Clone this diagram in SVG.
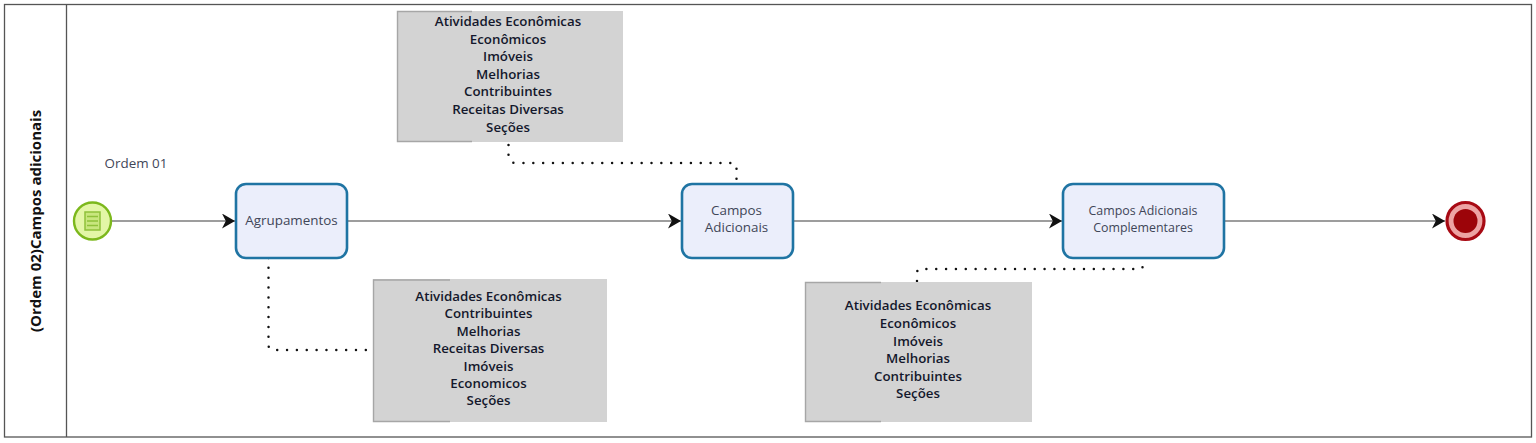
<svg xmlns="http://www.w3.org/2000/svg" width="1536" height="443" viewBox="0 0 1536 443">
  <style>
    text { font-family: "Open Sans", "DejaVu Sans", sans-serif; text-anchor: middle; }
    .task { fill: #ebeefb; stroke: #1f74a3; stroke-width: 2.6; }
    .label { font-size: 13.4px; fill: #3f4658; }
    .label-wide { font-size: 12.4px; fill: #3f4658; }
    .note { fill: #d3d3d3; }
    .note-edge { fill: none; stroke: #a6a6a6; stroke-width: 1.4; }
    .note-text { font-size: 13.3px; font-weight: 600; fill: #14182c; }
    .flow { fill: none; stroke: #3c3c3c; stroke-width: 1.2; }
    .assoc { fill: none; stroke: #111; stroke-width: 2.5; stroke-linecap: round; stroke-dasharray: 0 9.85; }
  </style>
  <defs>
    <marker id="arrow" markerUnits="userSpaceOnUse" markerWidth="15" markerHeight="17" refX="13" refY="7.500" orient="auto">
      <path d="M0 0 L13 7.500 L0 15 L3.800 7.500 Z" fill="#111"/>
    </marker>
  </defs>
  <rect width="1536" height="443" fill="#fff"/>

  <g id="pool">
    <rect x="4.500" y="4.500" width="1527" height="432.500" fill="#fff" stroke="#555" stroke-width="1.300"/>
    <line x1="66.500" y1="4.500" x2="66.500" y2="437" stroke="#555" stroke-width="1.300"/>
    <text transform="translate(41 221) rotate(-90)" font-size="15" font-weight="700" fill="#111">(Ordem 02)Campos adicionais</text>
  </g>

  <g id="connectors">
    <path class="flow" d="M111 221H235" marker-end="url(#arrow)"/>
    <path class="flow" d="M347 221H681" marker-end="url(#arrow)"/>
    <path class="flow" d="M793 221H1062" marker-end="url(#arrow)"/>
    <path class="flow" d="M1224 221H1445" marker-end="url(#arrow)"/>
    <path class="assoc" d="M268.500 258V345Q268.500 350 274 350H372"/>
    <path class="assoc" d="M508.500 145V155Q509 163 516 163H731Q736.500 163 736.500 168V183"/>
    <path class="assoc" d="M917 281V273Q917 269 921 269H1139Q1143 269 1143 265V258"/>
  </g>

  <g id="start-event">
    <circle cx="92.500" cy="221" r="18.500" fill="#e3f6a6" stroke="#7cb81c" stroke-width="2.400"/>
    <rect x="85" y="212" width="15" height="18" fill="#c8e67e" stroke="#8fc13a" stroke-width="1.500"/>
    <path d="M87 216.500H98M87 221H98M87 225.500H98" stroke="#8fc13a" stroke-width="1.500" fill="none"/>
    <text class="label" x="136" y="168">Ordem 01</text>
  </g>

  <g id="task-agrupamentos">
    <rect class="task" x="236" y="184" width="111" height="74" rx="10"/>
    <text class="label" x="291.500" y="225">Agrupamentos</text>
  </g>

  <g id="task-campos-adicionais">
    <rect class="task" x="682" y="184" width="111" height="74" rx="10"/>
    <text class="label" x="736.500" y="215">Campos</text>
    <text class="label" x="736.500" y="232">Adicionais</text>
  </g>

  <g id="task-campos-complementares">
    <rect class="task" x="1063" y="184" width="161" height="74" rx="10"/>
    <text class="label-wide" x="1143" y="215">Campos Adicionais</text>
    <text class="label-wide" x="1143" y="232">Complementares</text>
  </g>

  <g id="end-event">
    <circle cx="1465.500" cy="221" r="18.500" fill="#eda3a3" stroke="#a80a14" stroke-width="3.200"/>
    <circle cx="1465.500" cy="221" r="12" fill="#9c0409"/>
  </g>

  <g id="note-top">
    <rect class="note" x="397" y="11" width="226" height="131"/>
    <path class="note-edge" d="M472 11.500H397.500V141.500H472"/>
    <text class="note-text" x="508" y="26">Atividades Econômicas</text>
    <text class="note-text" x="508" y="44">Econômicos</text>
    <text class="note-text" x="508" y="61">Imóveis</text>
    <text class="note-text" x="508" y="79">Melhorias</text>
    <text class="note-text" x="508" y="96">Contribuintes</text>
    <text class="note-text" x="508" y="114">Receitas Diversas</text>
    <text class="note-text" x="508" y="132">Seções</text>
  </g>

  <g id="note-agrupamentos">
    <rect class="note" x="373" y="279" width="234" height="143"/>
    <path class="note-edge" d="M450 280H373.500V421.500H450"/>
    <text class="note-text" x="488.500" y="301">Atividades Econômicas</text>
    <text class="note-text" x="488.500" y="318">Contribuintes</text>
    <text class="note-text" x="488.500" y="336">Melhorias</text>
    <text class="note-text" x="488.500" y="353">Receitas Diversas</text>
    <text class="note-text" x="488.500" y="371">Imóveis</text>
    <text class="note-text" x="488.500" y="388">Economicos</text>
    <text class="note-text" x="488.500" y="405">Seções</text>
  </g>

  <g id="note-complementares">
    <rect class="note" x="805" y="282" width="227" height="140"/>
    <path class="note-edge" d="M881 282.500H805.500V421.500H881"/>
    <text class="note-text" x="918" y="310">Atividades Econômicas</text>
    <text class="note-text" x="918" y="328">Econômicos</text>
    <text class="note-text" x="918" y="346">Imóveis</text>
    <text class="note-text" x="918" y="363">Melhorias</text>
    <text class="note-text" x="918" y="381">Contribuintes</text>
    <text class="note-text" x="918" y="398">Seções</text>
  </g>
</svg>
